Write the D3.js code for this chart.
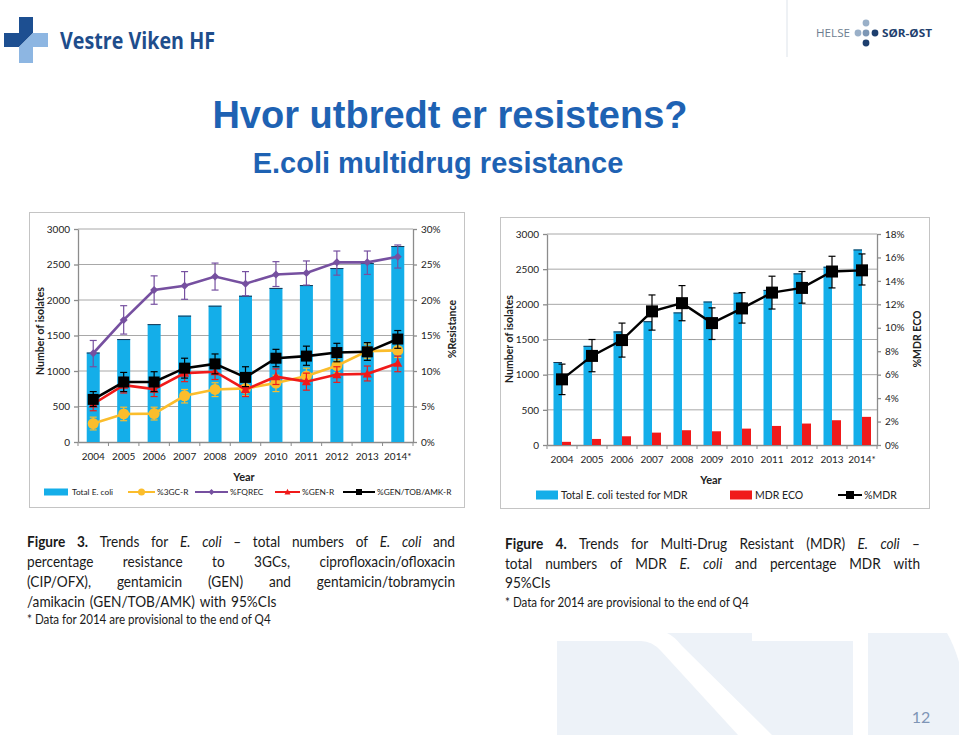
<!DOCTYPE html>
<html><head><meta charset="utf-8">
<script src="https://cdn.jsdelivr.net/npm/d3@7/dist/d3.min.js"></script>
<style>
html,body{margin:0;padding:0;background:#fff;}
svg{display:block;}
</style></head>
<body>
<script>
// ---------------- DATA ----------------
const years = ["2004","2005","2006","2007","2008","2009","2010","2011","2012","2013","2014*"];
// Figure 3
const totalEcoli = [1260,1450,1660,1780,1920,2060,2170,2210,2450,2520,2760];
const pct3GC    = [2.6,3.95,4.0,6.5,7.4,7.55,8.3,9.3,10.75,12.8,12.9];
const pct3GCLo  = [1.7,3.0,3.1,5.5,6.4,6.5,7.1,8.3,9.75,11.8,11.9];
const pct3GCHi  = [3.5,4.9,4.9,7.4,8.35,8.6,9.4,10.4,11.6,13.8,13.9];
const pctFQREC   = [12.5,17.2,21.4,22.0,23.3,22.3,23.6,23.8,25.3,25.3,26.1];
const pctFQRECLo = [10.6,15.2,19.4,20.1,21.4,20.6,21.9,22.1,23.5,23.6,24.5];
const pctFQRECHi = [14.3,19.2,23.4,24.0,25.2,24.0,25.4,25.5,26.9,26.9,27.75];
const pctGEN   = [5.35,8.0,7.45,9.7,9.9,7.4,9.2,8.5,9.5,9.6,11.1];
const pctGENLo = [4.4,6.9,6.4,8.5,8.8,6.4,8.1,7.3,8.4,8.6,9.9];
const pctGENHi = [6.4,9.1,8.5,10.9,11.1,8.5,10.3,9.7,10.6,10.7,12.1];
const pctGTA   = [6.0,8.45,8.45,10.4,11.0,9.1,11.8,12.1,12.6,12.7,14.5];
const pctGTALo = [5.0,7.1,7.1,9.0,9.6,7.8,10.6,10.8,11.3,11.5,13.2];
const pctGTAHi = [7.1,9.8,9.9,11.8,12.4,10.6,13.05,13.5,13.9,14.0,15.7];
// Figure 4
const mdrTested = [1180,1410,1615,1760,1885,2040,2165,2205,2440,2535,2780];
const mdrEco    = [45,86,124,176,210,195,233,271,305,352,400];
const pctMDR    = [5.6,7.6,8.95,11.4,12.1,10.4,11.65,13.0,13.4,14.8,14.9];
const pctMDRLo  = [4.3,6.25,7.5,9.8,10.6,9.0,10.4,11.6,12.1,13.4,13.65];
const pctMDRHi  = [6.9,9.0,10.4,12.8,13.6,11.7,13.0,14.4,14.8,16.1,16.3];
// ticks
const countTicks = [0,500,1000,1500,2000,2500,3000];
const resTicks = [0,5,10,15,20,25,30];
const mdrTicks = [0,2,4,6,8,10,12,14,16,18];

// ---------------- STYLE ----------------
const C = {blue:"#14aee9", red:"#f01a1a", purple:"#7650a0", yellow:"#fbbd2c", black:"#000",
           grid:"#a8a8a8", axis:"#8c8c8c", text:"#222", title:"#1e62b3"};
const F = "Lato, 'Open Sans', sans-serif";

const svg = d3.select("body").append("svg").attr("width",959).attr("height",735);

// ---------------- BACKGROUND DECOR ----------------
const deco = svg.append("g").attr("fill","#edf2f8");
deco.append("path").attr("d","M557,641 H641 Q652,641 661,651 L738,735 H557 Z");
deco.append("path").attr("d","M667,633 H752 V641 H853 V735 H772 L682,646 Q674,636 667,633 Z");
deco.append("path").attr("d","M868,633 H947 Q954,645 959,662 V735 H868 Z");
svg.append("text").attr("x",921).attr("y",723).attr("text-anchor","middle")
  .attr("font-family",F).attr("font-size",16).attr("fill","#7f95b6").text("12");

// ---------------- HEADER ----------------
const logo = svg.append("g");
logo.append("path").attr("fill","#1d4f91").attr("d","M19,17 H33 V33 L19,47 H4 V33 H19 Z");
logo.append("path").attr("fill","#8db6e2").attr("d","M33,33 H48 V47 H33 V63 H19 V47 Z");
svg.append("text").attr("x",60).attr("y",49).attr("font-family","'Open Sans', sans-serif")
  .attr("font-weight","bold").attr("font-size",23).attr("fill","#1e4d8c")
  .attr("textLength",155).attr("lengthAdjust","spacingAndGlyphs").text("Vestre Viken HF");
svg.append("line").attr("x1",787).attr("x2",787).attr("y1",0).attr("y2",57).attr("stroke","#dde3ea");
svg.append("text").attr("x",816).attr("y",37).attr("font-family","'Open Sans', sans-serif")
  .attr("font-size",11).attr("fill","#6d7d90").attr("textLength",34).attr("lengthAdjust","spacingAndGlyphs").text("HELSE");
[[866,23,"#9ab0c8"],[858,33,"#9ab0c8"],[866,33,"#7d97b5"],[875,33,"#1e3f6e"],[866,43,"#1e3f6e"]]
  .forEach(d=>svg.append("circle").attr("cx",d[0]).attr("cy",d[1]).attr("r",3.4).attr("fill",d[2]));
svg.append("text").attr("x",882).attr("y",37).attr("font-family","'Open Sans', sans-serif")
  .attr("font-weight","bold").attr("font-size",11).attr("fill","#1e3f6e")
  .attr("textLength",50).attr("lengthAdjust","spacingAndGlyphs").text("SØR-ØST");

svg.append("text").attr("x",450).attr("y",128).attr("text-anchor","middle")
  .attr("font-family","'Liberation Sans', Arial, sans-serif").attr("font-weight","bold")
  .attr("font-size",38).attr("fill",C.title).text("Hvor utbredt er resistens?");
svg.append("text").attr("x",438).attr("y",173).attr("text-anchor","middle")
  .attr("font-family","'Liberation Sans', Arial, sans-serif").attr("font-weight","bold")
  .attr("font-size",29).attr("fill",C.title).text("E.coli multidrug resistance");

// ---------------- HELPERS ----------------
function marker(g, shape, x, y, size, color){
  if(shape==="circle") g.append("circle").attr("cx",x).attr("cy",y).attr("r",size/2).attr("fill",color);
  else if(shape==="square") g.append("rect").attr("x",x-size/2).attr("y",y-size/2).attr("width",size).attr("height",size).attr("fill",color);
  else if(shape==="diamond") g.append("path").attr("d",`M${x},${y-size/2}L${x+size/2},${y}L${x},${y+size/2}L${x-size/2},${y}Z`).attr("fill",color);
  else if(shape==="triangle") g.append("path").attr("d",`M${x},${y-size*0.55}L${x+size/2},${y+size*0.4}L${x-size/2},${y+size*0.4}Z`).attr("fill",color);
}
function series(g, x, y, vals, lo, hi, color, shape, size, lw){
  const cx = d => x(d) + x.bandwidth()/2;
  const eg = g.append("g").attr("stroke",color).attr("stroke-width",1.2);
  years.forEach((yr,i)=>{
    const xx = cx(yr);
    eg.append("line").attr("x1",xx).attr("x2",xx).attr("y1",y(lo[i])).attr("y2",y(hi[i]));
    eg.append("line").attr("x1",xx-3.5).attr("x2",xx+3.5).attr("y1",y(lo[i])).attr("y2",y(lo[i]));
    eg.append("line").attr("x1",xx-3.5).attr("x2",xx+3.5).attr("y1",y(hi[i])).attr("y2",y(hi[i]));
  });
  g.append("path").datum(vals).attr("fill","none").attr("stroke",color).attr("stroke-width",lw)
    .attr("d", d3.line().x((d,i)=>cx(years[i])).y(d=>y(d)));
  vals.forEach((v,i)=>marker(g, shape, cx(years[i]), y(v), size, color));
}
function axes(g, x, yL, yR, x0, x1, yTop, yBot, leftTicks, rightTicks){
  g.append("g").selectAll("line").data(leftTicks.filter(t=>t>0)).join("line")
    .attr("x1",x0).attr("x2",x1).attr("y1",d=>yL(d)).attr("y2",d=>yL(d))
    .attr("stroke",C.grid).attr("stroke-width",1);
  const al = g.append("g").attr("transform",`translate(${x0},0)`)
    .call(d3.axisLeft(yL).tickValues(leftTicks).tickFormat(d3.format("d")).tickSize(4).tickPadding(4).tickSizeOuter(0));
  const ar = g.append("g").attr("transform",`translate(${x1},0)`)
    .call(d3.axisRight(yR).tickValues(rightTicks).tickFormat(d=>d+"%").tickSize(4).tickPadding(4).tickSizeOuter(0));
  const ab = g.append("g").attr("transform",`translate(0,${yBot})`)
    .call(d3.axisBottom(x).tickSize(0).tickPadding(11));
  const bounds = years.map(d=>x(d)).concat([x1]);
  g.append("g").selectAll("line").data(bounds).join("line")
    .attr("x1",d=>d).attr("x2",d=>d).attr("y1",yBot).attr("y2",yBot+4).attr("stroke",C.axis);
  [al,ar,ab].forEach(a=>{
    a.selectAll("path,line").attr("stroke",C.axis).attr("stroke-width",1.3);
    a.selectAll("text").attr("font-family",F).attr("font-size",10).attr("fill",C.text);
  });
}

// ---------------- FIGURE 3 ----------------
{
  const g = svg.append("g");
  g.append("rect").attr("x",29.5).attr("y",212.5).attr("width",435).attr("height",295)
    .attr("fill","#fff").attr("stroke","#c4c4c4");
  const x0=78, x1=413, yTop=229, yBot=442;
  const x = d3.scaleBand().domain(years).range([x0,x1]);
  const yL = d3.scaleLinear().domain([0,3000]).range([yBot,yTop]);
  const yR = d3.scaleLinear().domain([0,30]).range([yBot,yTop]);
  axes(g, x, yL, yR, x0, x1, yTop, yBot, countTicks, resTicks);
  const bw = 13;
  g.append("g").selectAll("rect").data(totalEcoli).join("rect")
    .attr("x",(d,i)=>x(years[i])+x.bandwidth()/2-bw/2).attr("width",bw)
    .attr("y",d=>yL(d)).attr("height",d=>yBot-yL(d)).attr("fill",C.blue);
  g.append("g").selectAll("line").data(totalEcoli).join("line")
    .attr("x1",(d,i)=>x(years[i])+x.bandwidth()/2-bw/2).attr("x2",(d,i)=>x(years[i])+x.bandwidth()/2+bw/2)
    .attr("y1",d=>yL(d)+0.5).attr("y2",d=>yL(d)+0.5).attr("stroke","#1a3550").attr("stroke-width",1);
  series(g,x,yR,pct3GC,pct3GCLo,pct3GCHi,C.yellow,"circle",11,2.6);
  series(g,x,yR,pctFQREC,pctFQRECLo,pctFQRECHi,C.purple,"diamond",8,2.6);
  series(g,x,yR,pctGEN,pctGENLo,pctGENHi,C.red,"triangle",9,2.6);
  series(g,x,yR,pctGTA,pctGTALo,pctGTAHi,C.black,"square",11,2.6);
  g.append("text").attr("transform","translate(44,331) rotate(-90)").attr("text-anchor","middle")
    .attr("font-family",F).attr("font-weight","bold").attr("font-size",10.5).attr("fill",C.text).text("Number of isolates");
  g.append("text").attr("transform","translate(456,329) rotate(-90)").attr("text-anchor","middle")
    .attr("font-family",F).attr("font-weight","bold").attr("font-size",10.5).attr("fill",C.text).text("%Resistance");
  g.append("text").attr("x",244).attr("y",481).attr("text-anchor","middle")
    .attr("font-family",F).attr("font-weight","bold").attr("font-size",11).attr("fill",C.text).text("Year");
  const ly = 492, lg = g.append("g");
  lg.append("rect").attr("x",44).attr("y",ly-3.5).attr("width",24).attr("height",7).attr("fill",C.blue);
  const items = [[128,155,C.yellow,"circle",7,"%3GC-R"],[195,228,C.purple,"diamond",6,"%FQREC"],
                 [275,300,C.red,"triangle",6,"%GEN-R"],[343,375,C.black,"square",6,"%GEN/TOB/AMK-R"]];
  lg.append("text").attr("x",72).attr("y",ly+3).attr("font-family",F).attr("font-size",8.3).attr("fill",C.text).text("Total E. coli");
  items.forEach(it=>{
    lg.append("line").attr("x1",it[0]).attr("x2",it[1]).attr("y1",ly).attr("y2",ly).attr("stroke",it[2]).attr("stroke-width",2);
    marker(lg,it[3],(it[0]+it[1])/2,ly,it[4],it[2]);
    lg.append("text").attr("x",it[1]+2).attr("y",ly+3).attr("font-family",F).attr("font-size",8.3).attr("fill",C.text).text(it[5]);
  });
}

// ---------------- FIGURE 4 ----------------
{
  const g = svg.append("g");
  g.append("rect").attr("x",500.5).attr("y",217.5).attr("width",429).attr("height",291)
    .attr("fill","#fff").attr("stroke","#c4c4c4");
  const x0=547, x1=877, yTop=234, yBot=445;
  const x = d3.scaleBand().domain(years).range([x0,x1]);
  const yL = d3.scaleLinear().domain([0,3000]).range([yBot,yTop]);
  const yR = d3.scaleLinear().domain([0,18]).range([yBot,yTop]);
  axes(g, x, yL, yR, x0, x1, yTop, yBot, countTicks, mdrTicks);
  const cxf = (i)=>x(years[i])+x.bandwidth()/2;
  g.append("g").selectAll("rect").data(mdrTested).join("rect")
    .attr("x",(d,i)=>cxf(i)-8.5).attr("width",8.5)
    .attr("y",d=>yL(d)).attr("height",d=>yBot-yL(d)).attr("fill",C.blue);
  g.append("g").selectAll("line").data(mdrTested).join("line")
    .attr("x1",(d,i)=>cxf(i)-8.5).attr("x2",(d,i)=>cxf(i))
    .attr("y1",d=>yL(d)+0.5).attr("y2",d=>yL(d)+0.5).attr("stroke","#1a3550").attr("stroke-width",1);
  g.append("g").selectAll("rect").data(mdrEco).join("rect")
    .attr("x",(d,i)=>cxf(i)).attr("width",9)
    .attr("y",d=>yL(d)).attr("height",d=>yBot-yL(d)).attr("fill",C.red);
  series(g,x,yR,pctMDR,pctMDRLo,pctMDRHi,C.black,"square",12,2.4);
  g.append("text").attr("transform","translate(513,339) rotate(-90)").attr("text-anchor","middle")
    .attr("font-family",F).attr("font-weight","bold").attr("font-size",10.5).attr("fill",C.text).text("Number of isolates");
  g.append("text").attr("transform","translate(921,339) rotate(-90)").attr("text-anchor","middle")
    .attr("font-family",F).attr("font-weight","bold").attr("font-size",10.5).attr("fill",C.text).text("%MDR ECO");
  g.append("text").attr("x",711).attr("y",484).attr("text-anchor","middle")
    .attr("font-family",F).attr("font-weight","bold").attr("font-size",11).attr("fill",C.text).text("Year");
  const ly = 495;
  g.append("rect").attr("x",536).attr("y",ly-4.5).attr("width",22).attr("height",9).attr("fill",C.blue);
  g.append("text").attr("x",561).attr("y",ly+4).attr("font-family",F).attr("font-size",10.5).attr("fill",C.text).text("Total E. coli tested for MDR");
  g.append("rect").attr("x",730).attr("y",ly-4.5).attr("width",22).attr("height",9).attr("fill",C.red);
  g.append("text").attr("x",755).attr("y",ly+4).attr("font-family",F).attr("font-size",10.5).attr("fill",C.text).text("MDR ECO");
  g.append("line").attr("x1",838).attr("x2",862).attr("y1",ly).attr("y2",ly).attr("stroke","#000").attr("stroke-width",2);
  marker(g,"square",850,ly,8,"#000");
  g.append("text").attr("x",864).attr("y",ly+4).attr("font-family",F).attr("font-size",10.5).attr("fill",C.text).text("%MDR");
}

// ---------------- CAPTIONS ----------------
// each line is drawn in a horizontally condensed group (scale sq) to mimic the narrow Calibri face
function para(xl, xr, y0, lh, lines, size, sq){
  lines.forEach((ln,li)=>{
    const words = ln.text.split(" ").map(w=>{
      let st = "n"; if(w[0]==="^"){st="b";w=w.slice(1);} else if(w[0]==="_"){st="i";w=w.slice(1);}
      return {w,st};
    });
    const g = svg.append("g").attr("transform",`translate(${xl},${y0+li*lh}) scale(${sq},1)`);
    const els = words.map(o=> g.append("text").attr("y",0).attr("font-family",F).attr("font-size",size)
      .attr("fill","#1a1a1a").attr("font-weight",o.st==="b"?"bold":"normal")
      .attr("font-style",o.st==="i"?"italic":"normal").text(o.w));
    const widths = els.map(e=>e.node().getComputedTextLength());   // unscaled units
    const W = (xr-xl)/sq;
    const total = d3.sum(widths);
    const gap = ln.justify ? (W-total)/(words.length-1) : size*0.36;
    let cx = 0;
    els.forEach((e,i)=>{ e.attr("x",cx); cx += widths[i]+gap; });
  });
}
para(27,455,547,20,[
  {text:"^Figure ^3. Trends for _E. _coli – total numbers of _E. _coli and",justify:true},
  {text:"percentage resistance to 3GCs, ciprofloxacin/ofloxacin",justify:true},
  {text:"(CIP/OFX), gentamicin (GEN) and gentamicin/tobramycin",justify:true},
  {text:"/amikacin (GEN/TOB/AMK) with 95%CIs",justify:false}],15.5,0.88);
svg.append("text").attr("transform","translate(27,624) scale(0.92,1)").attr("font-family",F).attr("font-size",12.6).attr("fill","#1a1a1a")
  .text("* Data for 2014 are provisional to the end of Q4");
para(505,920,549,19.5,[
  {text:"^Figure ^4. Trends for Multi-Drug Resistant (MDR) _E. _coli –",justify:true},
  {text:"total numbers of MDR _E. _coli and percentage MDR with",justify:true},
  {text:"95%CIs",justify:false}],15.5,0.88);
svg.append("text").attr("transform","translate(505,607) scale(0.92,1)").attr("font-family",F).attr("font-size",12.6).attr("fill","#1a1a1a")
  .text("* Data for 2014 are provisional to the end of Q4");
</script>
</body></html>
